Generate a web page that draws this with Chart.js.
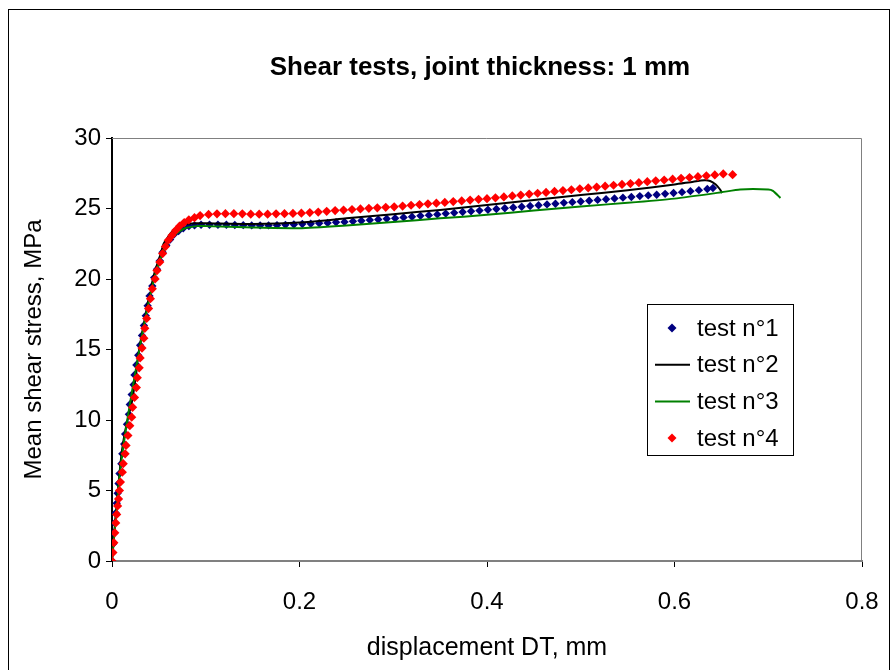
<!DOCTYPE html>
<html>
<head>
<meta charset="utf-8">
<script src="https://cdn.jsdelivr.net/npm/chart.js@4.4.0/dist/chart.umd.min.js"></script>
<style>
  html, body { margin: 0; padding: 0; background: #fff; }
  #wrap { width: 896px; height: 670px; }
</style>
</head>
<body>
<div id="wrap"><canvas id="chart" width="896" height="670"></canvas></div>
<script>
// Tick labels
const xTicks = [0, 0.2, 0.4, 0.6, 0.8];
const yTicks = [0, 5, 10, 15, 20, 25, 30];

// test n°1 (blue diamonds)
const test1X = [0, 0.001, 0.002, 0.003, 0.004, 0.005, 0.006, 0.007, 0.008, 0.010, 0.011, 0.013, 0.014, 0.016, 0.018, 0.019, 0.021, 0.023, 0.024, 0.026, 0.028, 0.030, 0.032, 0.034, 0.036, 0.038, 0.040, 0.043, 0.045, 0.048, 0.051, 0.054, 0.058, 0.062, 0.066, 0.071, 0.076, 0.082, 0.088, 0.095,
  0.104, 0.113, 0.122, 0.131, 0.140, 0.149, 0.158, 0.167, 0.176, 0.185, 0.194, 0.203, 0.212, 0.221, 0.230, 0.239, 0.248, 0.257, 0.266, 0.275, 0.284, 0.293, 0.302, 0.311, 0.320, 0.329, 0.338, 0.347, 0.356, 0.365, 0.374, 0.383, 0.392, 0.401, 0.410, 0.419, 0.428, 0.437, 0.446, 0.455, 0.464, 0.473, 0.482, 0.491, 0.500, 0.509, 0.518, 0.527, 0.536, 0.545, 0.554, 0.563, 0.572, 0.581, 0.590, 0.599, 0.608, 0.617, 0.626, 0.635, 0.641];
const test1Y = [0, 1.2, 2.0, 2.7, 3.4, 4.1, 4.8, 5.5, 6.2, 6.9, 7.6, 8.3, 9.0, 9.7, 10.4, 11.1, 11.8, 12.5, 13.2, 13.9, 14.6, 15.3, 16.0, 16.7, 17.4, 18.1, 18.8, 19.5, 20.1, 20.7, 21.3, 21.9, 22.4, 22.8, 23.15, 23.4, 23.6, 23.75, 23.8, 23.85,
  23.85, 23.85, 23.85, 23.83, 23.82, 23.8, 23.8, 23.8, 23.82, 23.84, 23.87, 23.9, 23.92, 23.95, 23.98, 24.02, 24.05, 24.09, 24.13, 24.18, 24.22, 24.27, 24.31, 24.37, 24.42, 24.48, 24.53, 24.58, 24.64, 24.69, 24.75, 24.8, 24.85, 24.91, 24.96, 25.02, 25.07, 25.12, 25.18, 25.23, 25.29, 25.34, 25.4, 25.45, 25.5, 25.55, 25.61, 25.66, 25.71, 25.77, 25.82, 25.88, 25.93, 25.98, 26.04, 26.1, 26.16, 26.23, 26.3, 26.38, 26.45];

// test n°2 (black line)
const test2X = [0, 0.003, 0.006, 0.010, 0.014, 0.018, 0.021, 0.023, 0.026, 0.028, 0.030, 0.033, 0.036, 0.038, 0.041, 0.043, 0.046, 0.049, 0.052, 0.055, 0.058, 0.062, 0.066, 0.071, 0.078, 0.09, 0.10, 0.15, 0.20, 0.25, 0.30, 0.35, 0.40, 0.45, 0.50, 0.55, 0.60, 0.62, 0.632, 0.638, 0.644, 0.648, 0.651];
const test2Y = [0, 2.5, 4.8, 7.5, 9.2, 10.4, 11.2, 12.0, 13.4, 14.6, 15.4, 16.5, 17.5, 18.3, 19.0, 19.8, 20.6, 21.2, 21.8, 22.5, 22.8, 23.2, 23.5, 23.75, 23.9, 23.95, 23.95, 23.9, 24.0, 24.3, 24.6, 24.9, 25.25, 25.6, 25.95, 26.3, 26.7, 26.9, 27.0, 26.95, 26.7, 26.4, 26.1];

// test n°3 (green line)
const test3X = [0, 0.004, 0.008, 0.014, 0.020, 0.026, 0.032, 0.038, 0.045, 0.052, 0.060, 0.068, 0.078, 0.09, 0.10, 0.15, 0.20, 0.25, 0.30, 0.35, 0.40, 0.45, 0.50, 0.55, 0.60, 0.65, 0.67, 0.70, 0.705, 0.713];
const test3Y = [0, 3.0, 6.0, 9.0, 11.5, 13.8, 16.0, 18.0, 20.0, 21.5, 22.6, 23.2, 23.6, 23.75, 23.75, 23.65, 23.6, 23.8, 24.05, 24.3, 24.55, 24.85, 25.15, 25.4, 25.7, 26.15, 26.35, 26.35, 26.25, 25.75];

// test n°4 (red diamonds)
const test4X = [0, 0.001, 0.002, 0.003, 0.004, 0.005, 0.006, 0.007, 0.008, 0.009, 0.011, 0.012, 0.014, 0.015, 0.017, 0.019, 0.021, 0.022, 0.024, 0.026, 0.027, 0.029, 0.030, 0.032, 0.034, 0.035, 0.037, 0.039, 0.041, 0.043, 0.046, 0.048, 0.051, 0.054, 0.057, 0.060, 0.064, 0.068, 0.072, 0.077, 0.082, 0.088, 0.094,
  0.103, 0.112, 0.121, 0.130, 0.139, 0.148, 0.157, 0.166, 0.175, 0.184, 0.193, 0.202, 0.211, 0.220, 0.229, 0.238, 0.247, 0.256, 0.265, 0.274, 0.283, 0.292, 0.301, 0.310, 0.319, 0.328, 0.337, 0.346, 0.355, 0.364, 0.373, 0.382, 0.391, 0.400, 0.409, 0.418, 0.427, 0.436, 0.445, 0.454, 0.463, 0.472, 0.481, 0.490, 0.499, 0.508, 0.517, 0.526, 0.535, 0.544, 0.553, 0.562, 0.571, 0.580, 0.589, 0.598, 0.607, 0.616, 0.625, 0.634, 0.643, 0.652, 0.662];
const test4Y = [0, 0.6, 1.3, 2.0, 2.7, 3.3, 3.9, 4.4, 5.0, 5.6, 6.3, 6.9, 7.6, 8.2, 8.9, 9.6, 10.2, 10.9, 11.6, 12.3, 13.0, 13.7, 14.4, 15.1, 15.8, 16.5, 17.2, 17.9, 18.6, 19.3, 20.0, 20.6, 21.2, 21.8, 22.3, 22.75, 23.1, 23.45, 23.75, 24.0, 24.2, 24.35, 24.5,
  24.58, 24.62, 24.63, 24.63, 24.62, 24.6, 24.6, 24.6, 24.62, 24.63, 24.65, 24.67, 24.71, 24.75, 24.8, 24.85, 24.89, 24.93, 24.97, 25.01, 25.05, 25.08, 25.12, 25.17, 25.23, 25.28, 25.33, 25.38, 25.43, 25.49, 25.54, 25.6, 25.65, 25.7, 25.76, 25.82, 25.89, 25.95, 26.02, 26.08, 26.14, 26.21, 26.27, 26.33, 26.4, 26.46, 26.52, 26.58, 26.65, 26.71, 26.77, 26.83, 26.9, 26.96, 27.02, 27.08, 27.14, 27.2, 27.26, 27.32, 27.38, 27.45, 27.4];

const toPoints = (xs, ys) => xs.map((x, i) => ({ x: x, y: ys[i] }));

const FONT = '"Liberation Sans", Arial, sans-serif';

// Chart frame, title and legend box drawn like the spreadsheet original
const framePlugin = {
    id: 'frame',
    beforeDraw(chart) {
        const ctx = chart.ctx;
        ctx.save();
        ctx.fillStyle = '#fff';
        ctx.fillRect(0, 0, chart.width, chart.height);
        ctx.strokeStyle = '#000';
        ctx.lineWidth = 1;
        ctx.strokeRect(8.5, 9.5, 881, 700);
        ctx.restore();
    },
    afterDatasetsDraw(chart) {
        const ctx = chart.ctx;
        const a = chart.chartArea;
        ctx.save();
        // top and right edges of the plot area
        ctx.strokeStyle = '#808080';
        ctx.lineWidth = 1;
        ctx.beginPath();
        ctx.moveTo(a.left, a.top + 0.5);
        ctx.lineTo(a.right - 0.5, a.top + 0.5);
        ctx.lineTo(a.right - 0.5, a.bottom);
        ctx.stroke();

        // title
        ctx.fillStyle = '#000';
        ctx.font = 'bold 26px ' + FONT;
        ctx.textAlign = 'center';
        ctx.textBaseline = 'middle';
        ctx.fillText('Shear tests, joint thickness: 1 mm', 480, 68);

        // legend
        const lx = 647, ly = 304, lw = 146, lh = 151;
        ctx.fillStyle = '#fff';
        ctx.fillRect(lx, ly, lw, lh);
        ctx.strokeStyle = '#000';
        ctx.strokeRect(lx + 0.5, ly + 0.5, lw, lh);
        ctx.font = '24px ' + FONT;
        ctx.textAlign = 'left';
        chart.data.datasets.forEach((ds, i) => {
            const cy = 328 + i * 36.7;
            if (ds.showLine === false) {
                const r = 4.5;
                ctx.fillStyle = ds.pointBackgroundColor;
                ctx.beginPath();
                ctx.moveTo(672, cy - r);
                ctx.lineTo(672 + r, cy);
                ctx.lineTo(672, cy + r);
                ctx.lineTo(672 - r, cy);
                ctx.closePath();
                ctx.fill();
            } else {
                ctx.strokeStyle = ds.borderColor;
                ctx.lineWidth = 2;
                ctx.beginPath();
                ctx.moveTo(655, cy);
                ctx.lineTo(690, cy);
                ctx.stroke();
            }
            ctx.fillStyle = '#000';
            ctx.fillText(ds.label, 697, cy + 1);
        });
        ctx.restore();
    }
};

new Chart(document.getElementById('chart'), {
    type: 'scatter',
    data: {
        datasets: [
            {
                label: 'test n°1',
                data: toPoints(test1X, test1Y),
                showLine: false,
                pointStyle: 'rectRot',
                pointRadius: 4.2,
                pointBackgroundColor: '#000080',
                pointBorderColor: '#000080',
                pointBorderWidth: 0,
                order: 4
            },
            {
                label: 'test n°2',
                data: toPoints(test2X, test2Y),
                showLine: true,
                borderColor: '#000000',
                borderWidth: 2,
                pointRadius: 0,
                tension: 0.2,
                order: 3
            },
            {
                label: 'test n°3',
                data: toPoints(test3X, test3Y),
                showLine: true,
                borderColor: '#008000',
                borderWidth: 2,
                pointRadius: 0,
                tension: 0.2,
                order: 2
            },
            {
                label: 'test n°4',
                data: toPoints(test4X, test4Y),
                showLine: false,
                pointStyle: 'rectRot',
                pointRadius: 4.6,
                pointBackgroundColor: '#ff0000',
                pointBorderColor: '#ff0000',
                pointBorderWidth: 0,
                order: 1
            }
        ]
    },
    options: {
        responsive: false,
        animation: false,
        layout: { padding: { left: 0, top: 138, right: 34, bottom: 0 } },
        plugins: {
            legend: { display: false },
            tooltip: { enabled: false }
        },
        scales: {
            x: {
                type: 'linear',
                min: 0,
                max: 0.8,
                afterFit: scale => {
                    scale.height = 109;
                    scale.paddingLeft = 0;
                    scale.paddingRight = 0;
                },
                afterBuildTicks: scale => { scale.ticks = xTicks.map(v => ({ value: v })); },
                ticks: { color: '#000', font: { family: FONT, size: 24 }, padding: 21, maxRotation: 0 },
                grid: { drawOnChartArea: false, drawTicks: true, tickLength: 6, color: '#000' },
                border: { color: '#808080', width: 2 },
                title: { display: true, text: 'displacement DT, mm', color: '#000', font: { family: FONT, size: 25 }, padding: { top: 0, bottom: 7 } }
            },
            y: {
                type: 'linear',
                min: 0,
                max: 30,
                afterFit: scale => {
                    scale.width = 112;
                    scale.paddingTop = 0;
                    scale.paddingBottom = 0;
                },
                afterBuildTicks: scale => { scale.ticks = yTicks.map(v => ({ value: v })); },
                ticks: { color: '#000', font: { family: FONT, size: 24 }, padding: 5 },
                grid: { drawOnChartArea: false, drawTicks: true, tickLength: 6, color: '#000' },
                border: { color: '#000', width: 2 },
                title: { display: true, text: 'Mean shear stress, MPa', color: '#000', font: { family: FONT, size: 24 }, padding: { top: 20, bottom: 0 } }
            }
        }
    },
    plugins: [framePlugin]
});
</script>
</body>
</html>
